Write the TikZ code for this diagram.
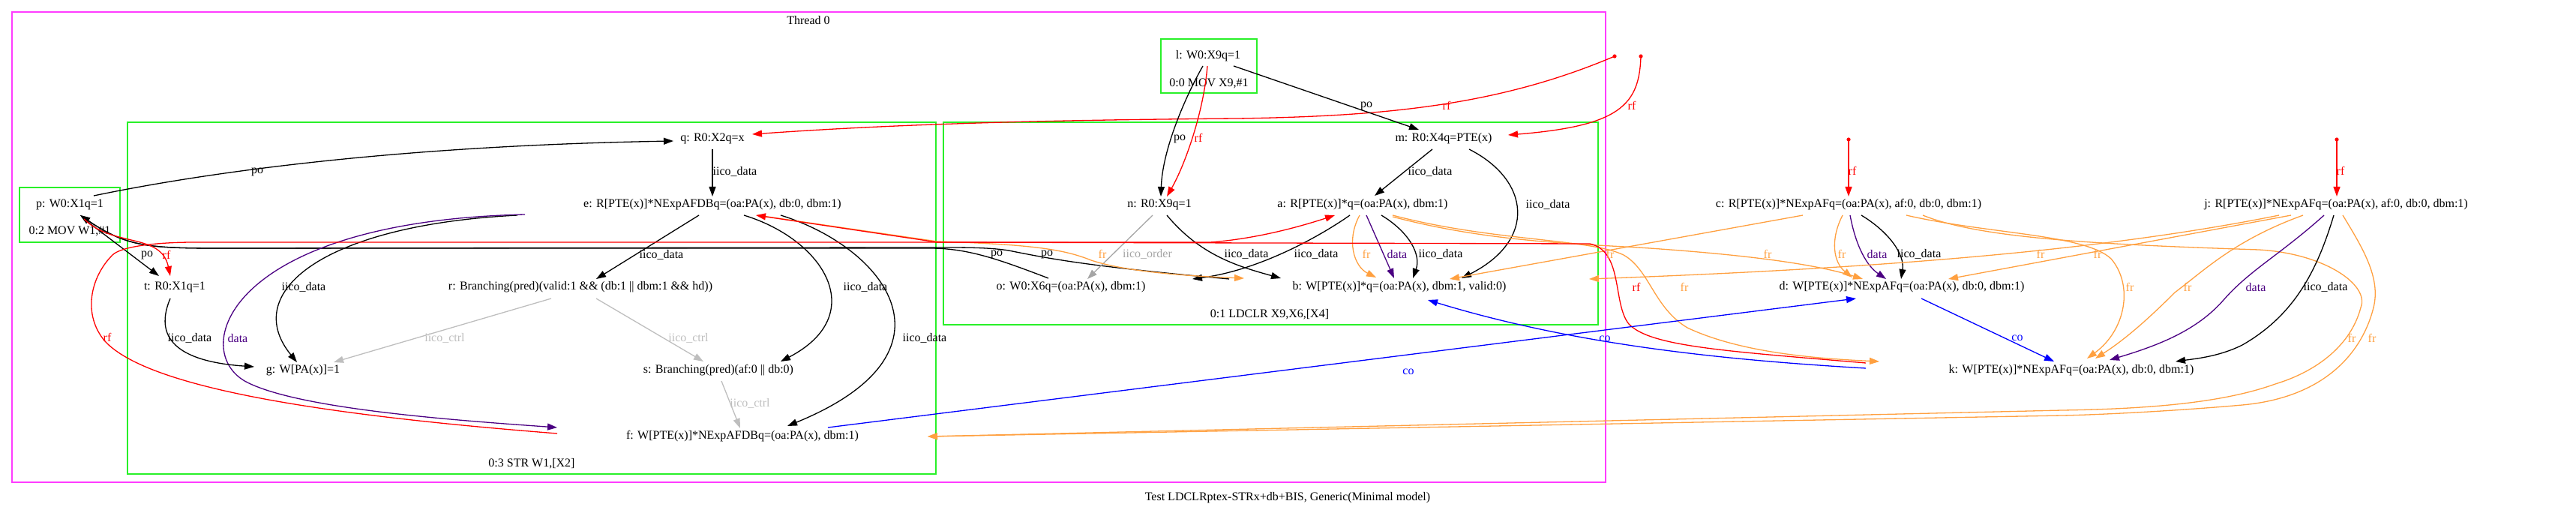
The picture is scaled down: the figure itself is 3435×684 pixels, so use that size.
\documentclass[tikz,border=0pt]{standalone}
\usepackage{fontspec}
\setmainfont{Liberation Serif}
\usetikzlibrary{arrows.meta}
\definecolor{cmag}{RGB}{255,60,255}
\definecolor{cgrn}{RGB}{40,240,40}
\definecolor{cfr}{RGB}{255,160,64}
\definecolor{cdata}{RGB}{75,0,130}
\definecolor{cctrl}{RGB}{190,190,190}
\definecolor{cord}{RGB}{165,165,165}
\definecolor{cco}{RGB}{0,0,255}
\definecolor{crf}{RGB}{255,0,0}
\begin{document}
\begin{tikzpicture}[x=1pt,y=-1pt,
 every node/.style={font=\fontsize{16}{19}\selectfont,inner sep=0pt},
 arr/.style={line width=1.3pt,-{Triangle[length=13pt,width=9pt]}},
 ablack/.style={arr,color=black},
 ared/.style={arr,color=crf},
 afr/.style={arr,color=cfr},
 adata/.style={arr,color=cdata},
 actrl/.style={arr,color=cctrl},
 aord/.style={arr,color=cord},
 aco/.style={arr,color=cco},
 lred/.style={text=crf},
 lfr/.style={text=cfr},
 ldata/.style={text=cdata},
 lctrl/.style={text=cctrl},
 lord/.style={text=cord},
 lco/.style={text=cco},
 gbox/.style={draw=cgrn,line width=1.5pt},
 mbox/.style={draw=cmag,line width=1.4pt}
]
\useasboundingbox (0,0) rectangle (3435,684);
% frames
\draw[mbox] (16,16) rectangle (2141,643);
\node (thr) at (1078,27) {Thread 0};
\draw[gbox] (170,163) rectangle (1248,632);
\node (c3) at (709,618) {0:3 STR W1,[X2]};
\draw[gbox] (1258,163) rectangle (2131,433);
\node (c1) at (1693,419) {0:1 LDCLR X9,X6,[X4]};
\draw[gbox] (26,250) rectangle (160,323);
\draw[gbox] (1548,52) rectangle (1676,124);
\node (foot) at (1717,664) {Test LDCLRptex-STRx+db+BIS, Generic(Minimal model)};
% nodes
\node (p) at (93,273) {p: W0:X1q=1};
\node (pins) at (93,308) {0:2 MOV W1,\#1};
\node (l) at (1611,75) {l: W0:X9q=1};
\node (lins) at (1612,111) {0:0 MOV X9,\#1};
\node (q) at (950,185) {q: R0:X2q=x};
\node (e) at (950,273) {e: R[PTE(x)]*NExpAFDBq=(oa:PA(x), db:0, dbm:1)};
\node (m) at (1925,185) {m: R0:X4q=PTE(x)};
\node (n) at (1546,273) {n: R0:X9q=1};
\node (a) at (1817,273) {a: R[PTE(x)]*q=(oa:PA(x), dbm:1)};
\node (c) at (2465,273) {c: R[PTE(x)]*NExpAFq=(oa:PA(x), af:0, db:0, dbm:1)};
\node (j) at (3115,273) {j: R[PTE(x)]*NExpAFq=(oa:PA(x), af:0, db:0, dbm:1)};
\node (t) at (233,383) {t: R0:X1q=1};
\node (r) at (774,383) {r: Branching(pred)(valid:1 \&\& (db:1 || dbm:1 \&\& hd))};
\node (o) at (1428,383) {o: W0:X6q=(oa:PA(x), dbm:1)};
\node (b) at (1866,383) {b: W[PTE(x)]*q=(oa:PA(x), dbm:1, valid:0)};
\node (d) at (2536,383) {d: W[PTE(x)]*NExpAFq=(oa:PA(x), db:0, dbm:1)};
\node (g) at (404,494) {g: W[PA(x)]=1};
\node (s) at (958,494) {s: Branching(pred)(af:0 || db:0)};
\node (k) at (2762,494) {k: W[PTE(x)]*NExpAFq=(oa:PA(x), db:0, dbm:1)};
\node (f) at (990,582) {f: W[PTE(x)]*NExpAFDBq=(oa:PA(x), dbm:1)};
\coordinate (i1) at (2153,75);
\coordinate (i2) at (2188,75);
\coordinate (i3) at (2465,186);
\coordinate (i4) at (3116,186);
\fill[crf] (i1) circle (2.6pt);
\fill[crf] (i2) circle (2.6pt);
\fill[crf] (i3) circle (2.6pt);
\fill[crf] (i4) circle (2.6pt);
% initial rf
\draw[ared] (i1) .. controls (2000,140) and (1850,155) .. (1650,158) .. controls (1400,160) and (1200,165) .. ([shift={(53,-6)}]q.center);
\draw[ared] (i2) .. controls (2186,140) and (2160,168) .. ([shift={(86,-5)}]m.center);
\draw[ared] (i3) -- ([shift={(0,-11)}]c.center);
\draw[ared] (i4) -- ([shift={(1,-11)}]j.center);
% po
\draw[ablack] ([shift={(32,-12)}]p.center) .. controls (250,235) and (500,195) .. ([shift={(-52,3)}]q.center);
\draw[ablack] ([shift={(-7,13)}]l.center) .. controls (1580,130) and (1550,200) .. ([shift={(2,-11)}]n.center);
\draw[ared] ([shift={(-1,13)}]l.center) .. controls (1605,150) and (1580,220) .. ([shift={(10,-11)}]n.center);
\draw[ablack] ([shift={(34,13)}]l.center) -- ([shift={(-33,-12)}]m.center);
\draw[ablack] ([shift={(-30,-12)}]o.center) .. controls (1330,345) and (1290,331) .. (1240,331) -- (300,331) .. controls (200,331) and (170,330) .. ([shift={(14,14)}]p.center);
\draw[ablack] ([shift={(-227,-11)}]b.center) .. controls (1450,355) and (1400,345) .. (1345,334) .. controls (1320,330) and (1290,330) .. (1250,330) -- (300,331) .. controls (200,331) and (170,330) .. ([shift={(14,14)}]p.center);
\draw[ablack] ([shift={(19,19)}]p.center) -- ([shift={(-21,-15)}]t.center);
\draw[ared] ([shift={(19,19)}]p.center) .. controls (150,330) and (215,310) .. ([shift={(-6,-15)}]t.center);
% iico
\draw[ablack] ([shift={(0,14)}]q.center) -- ([shift={(0,-11)}]e.center);
\draw[ablack] ([shift={(-15,14)}]m.center) -- ([shift={(16,-12)}]a.center);
\draw[ablack] ([shift={(34,14)}]m.center) .. controls (2040,240) and (2050,320) .. ([shift={(83,-12)}]b.center);
\draw[aord] ([shift={(-9,14)}]n.center) -- ([shift={(22,-11)}]o.center);
\draw[ablack] ([shift={(10,14)}]n.center) .. controls (1600,340) and (1650,355) .. ([shift={(-158,-12)}]b.center);
\draw[ablack] ([shift={(-17,14)}]a.center) .. controls (1760,315) and (1680,360) .. ([shift={(162,-11)}]o.center);
\draw[ablack] ([shift={(-18,14)}]e.center) -- ([shift={(21,-11)}]r.center);
\draw[ablack] ([shift={(-260,14)}]e.center) .. controls (430,300) and (320,390) .. ([shift={(-8,-11)}]g.center);
\draw[adata] ([shift={(-250,13)}]e.center) .. controls (300,295) and (250,470) .. (330,510) .. controls (400,545) and (600,560) .. ([shift={(-247,-12)}]f.center);
\draw[ablack] ([shift={(42,14)}]e.center) .. controls (1100,320) and (1160,420) .. ([shift={(83,-12)}]s.center);
\draw[ablack] ([shift={(91,14)}]e.center) .. controls (1180,330) and (1290,470) .. ([shift={(60,-14)}]f.center);
\draw[actrl] ([shift={(-39,15)}]r.center) -- ([shift={(41,-11)}]g.center);
\draw[actrl] ([shift={(21,15)}]r.center) -- ([shift={(-20,-12)}]s.center);
\draw[actrl] ([shift={(4,14)}]s.center) -- ([shift={(-3,-11)}]f.center);
\draw[ablack] ([shift={(-6,15)}]t.center) .. controls (205,450) and (235,482) .. ([shift={(-65,-5)}]g.center);
% fr
\draw[afr] ([shift={(60,14)}]e.center) -- (1250,322) .. controls (1380,326) and (1420,333) .. (1455,347) .. controls (1500,362) and (1580,368) .. ([shift={(-207,-12)}]b.center);
\draw[afr] ([shift={(40,14)}]a.center) .. controls (1990,322) and (2120,318) .. (2165,340) .. controls (2200,360) and (2205,410) .. (2250,437) .. controls (2320,470) and (2420,478) .. ([shift={(-256,-12)}]k.center);
\draw[afr] ([shift={(40,16)}]a.center) .. controls (1990,324) and (2110,325) .. (2200,331) .. controls (2330,340) and (2420,352) .. ([shift={(-52,-11)}]d.center);
\draw[afr] ([shift={(-4,14)}]a.center) .. controls (1795,320) and (1805,355) .. ([shift={(-31,-13)}]b.center);
\draw[adata] ([shift={(5,14)}]a.center) -- ([shift={(-7,-12)}]b.center);
\draw[ablack] ([shift={(25,14)}]a.center) .. controls (1880,310) and (1895,340) .. ([shift={(18,-12)}]b.center);
\draw[afr] ([shift={(-61,14)}]c.center) -- ([shift={(67,-11)}]b.center);
\draw[afr] ([shift={(-8,14)}]c.center) .. controls (2440,320) and (2445,350) .. ([shift={(-66,-13)}]d.center);
\draw[adata] ([shift={(2,14)}]c.center) .. controls (2475,330) and (2490,355) .. ([shift={(-21,-11)}]d.center);
\draw[ablack] ([shift={(17,14)}]c.center) .. controls (2520,310) and (2540,340) .. ([shift={(-1,-11)}]d.center);
\draw[afr] ([shift={(77,14)}]c.center) .. controls (2650,312) and (2780,312) .. (2815,345) .. controls (2845,380) and (2835,440) .. ([shift={(21,-16)}]k.center);
\draw[afr] ([shift={(99,14)}]c.center) .. controls (2640,318) and (2800,326) .. (3012,333) .. controls (3100,338) and (3160,380) .. (3148,410) .. controls (3135,460) and (3090,495) .. (3034,512) .. controls (2970,535) and (2880,545) .. (2750,547) -- ([shift={(247,0)}]f.center);
\draw[afr] ([shift={(9,14)}]j.center) .. controls (3150,330) and (3175,370) .. (3165,410) .. controls (3150,470) and (3100,530) .. (2990,540) .. controls (2900,548) and (2800,553) .. (2750,554) -- ([shift={(247,0)}]f.center);
\draw[afr] ([shift={(-44,14)}]j.center) .. controls (2980,320) and (2940,360) .. (2900,390) .. controls (2860,430) and (2830,455) .. ([shift={(32,-16)}]k.center);
\draw[adata] ([shift={(-16,14)}]j.center) .. controls (3040,340) and (3000,360) .. (2965,400) .. controls (2930,440) and (2880,460) .. ([shift={(51,-14)}]k.center);
\draw[ablack] ([shift={(-3,14)}]j.center) .. controls (3090,360) and (3060,420) .. (2990,460) .. controls (2960,475) and (2930,478) .. ([shift={(139,-12)}]k.center);
\draw[afr] ([shift={(-60,14)}]j.center) -- ([shift={(62,-11)}]d.center);
\draw[afr] ([shift={(-76,14)}]j.center) .. controls (2800,335) and (2500,358) .. ([shift={(253,-11)}]b.center);
% rf
\draw[ared] ([shift={(-247,-4)}]f.center) .. controls (450,555) and (200,520) .. (140,455) .. controls (110,420) and (120,370) .. (150,340) .. controls (160,330) and (200,323) .. (260,323) -- (1614,323) .. controls (1680,318) and (1740,300) .. ([shift={(-37,14)}]a.center);
\draw[ared] ([shift={(-274,-10)}]k.center) .. controls (2300,468) and (2200,462) .. (2172,432) .. controls (2150,405) and (2165,335) .. (2120,325) -- (1250,323) -- ([shift={(58,14)}]e.center);
% co
\draw[aco] ([shift={(114,-12)}]f.center) -- ([shift={(-61,15)}]d.center);
\draw[aco] ([shift={(-274,-3)}]k.center) .. controls (2300,480) and (2100,460) .. ([shift={(38,17)}]b.center);
\draw[aco] ([shift={(26,15)}]d.center) -- ([shift={(-23,-12)}]k.center);
% labels
\node (L1) at (343,229) {po};
\node (L2) at (1573,185) {po};
\node[lred] (L3) at (1598,184) {rf};
\node (L4) at (1822,141) {po};
\node (L5) at (980,229) {iico\_data};
\node (L6) at (1907,229) {iico\_data};
\node (L7) at (2064,273) {iico\_data};
\node[lord] (L8) at (1530,339) {iico\_order};
\node (L9) at (1662,339) {iico\_data};
\node (L10) at (1755,339) {iico\_data};
\node[lfr] (L11) at (1822,339) {fr};
\node[ldata] (L12) at (1863,339) {data};
\node (L13) at (1921,339) {iico\_data};
\node (L14) at (1329,339) {po};
\node (L15) at (1396,339) {po};
\node[lfr] (L16) at (1470,339) {fr};
\node (L17) at (882,340) {iico\_data};
\node (L18) at (196,340) {po};
\node[lred] (L19) at (222,340) {rf};
\node (L20) at (405,383) {iico\_data};
\node (L21) at (1154,383) {iico\_data};
\node[lred] (L22) at (143,450) {rf};
\node (L23) at (253,451) {iico\_data};
\node[ldata] (L24) at (317,451) {data};
\node[lctrl] (L25) at (593,451) {iico\_ctrl};
\node[lctrl] (L26) at (918,451) {iico\_ctrl};
\node (L27) at (1233,451) {iico\_data};
\node[lctrl] (L28) at (1000,538) {iico\_ctrl};
\node[lco] (L29) at (1878,496) {co};
\node[lco] (L30) at (2140,452) {co};
\node[lco] (L31) at (2690,451) {co};
\node[lred] (L32) at (2182,383) {rf};
\node[lfr] (L33) at (2246,383) {fr};
\node[lfr] (L34) at (2147,339) {fr};
\node[lfr] (L35) at (2357,339) {fr};
\node[lfr] (L36) at (2456,339) {fr};
\node[ldata] (L37) at (2503,339) {data};
\node (L38) at (2559,339) {iico\_data};
\node[lfr] (L39) at (2721,339) {fr};
\node[lfr] (L40) at (2797,339) {fr};
\node[lfr] (L41) at (2840,383) {fr};
\node[lfr] (L42) at (2917,383) {fr};
\node[ldata] (L43) at (3008,383) {data};
\node (L44) at (3101,383) {iico\_data};
\node[lfr] (L45) at (3136,451) {fr};
\node[lfr] (L46) at (3163,451) {fr};
\node[lred] (L47) at (1929,141) {rf};
\node[lred] (L48) at (2176,141) {rf};
\node[lred] (L49) at (2470,228) {rf};
\node[lred] (L50) at (3121,228) {rf};
\end{tikzpicture}
\end{document}
